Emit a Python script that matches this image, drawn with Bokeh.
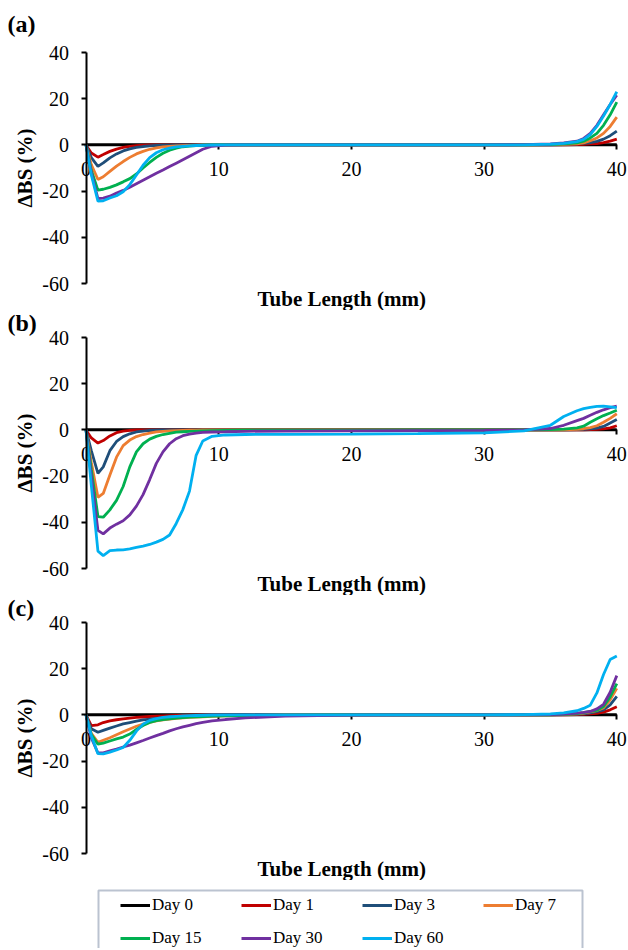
import math
from bokeh.plotting import figure
from bokeh.layouts import column
from bokeh.models import Range1d, FixedTicker, Legend, LegendItem, BoxAnnotation, Title
from bokeh.embed import file_html
from bokeh.resources import INLINE

# ---------------- data ----------------
X = [0, 0.4, 0.9, 1.3, 1.8, 2.3, 2.8, 3.3, 3.8, 4.3, 4.8, 5.3, 5.8, 6.3, 6.8,
     7.3, 7.8, 8.3, 8.8, 9.5, 10.5, 12, 15, 20, 25, 30, 33, 35, 36, 37,
     37.5, 38, 38.5, 39, 39.5, 40]
X_TICKS = [0, 10, 20, 30, 40]
Y_TICKS = [-60, -40, -20, 0, 20, 40]
DAYS = ["Day 0", "Day 1", "Day 3", "Day 7", "Day 15", "Day 30", "Day 60"]
COLORS = ["#000000", "#C00000", "#1F4E79", "#ED7D31", "#00B050", "#7030A0", "#00B0F0"]

# panel (a)
A_D0 = [0, 0, 0, 0, 0, 0, 0, 0, 0, 0, 0, 0, 0, 0, 0, 0, 0, 0, 0, 0, 0, 0, 0, 0, 0, 0, 0, 0, 0, 0, 0, 0, 0, 0, 0, 0]
A_D1 = [0, -3.5, -5.3, -4.2, -2.8, -1.8, -1.1, -0.6, -0.3, -0.15, -0.05, 0, 0, 0, 0, 0, 0, 0, 0, 0,
        0, 0, 0, 0, 0, 0, 0, 0, 0.05, 0.15, 0.25, 0.4, 0.6, 1.0, 1.6, 2.5]
A_D3 = [0, -5.5, -9.3, -7.8, -5.6, -3.9, -2.6, -1.7, -1.1, -0.7, -0.45, -0.25, -0.15, -0.08, -0.03,
        0, 0, 0, 0, 0, 0, 0, 0, 0, 0, 0, 0, 0.05, 0.15, 0.4, 0.7, 1.0, 1.5, 2.5, 4.0, 6.0]
A_D7 = [0, -8.5, -15.0, -13.8, -11.5, -9.2, -7.2, -5.4, -3.9, -2.8, -1.9, -1.3, -0.9, -0.6, -0.4,
        -0.3, -0.2, -0.1, -0.05, 0, 0, 0, 0, 0, 0, 0, 0, 0.1, 0.25, 0.5, 0.9, 1.8, 3.0, 5.0, 8.0, 12.0]
A_D15 = [0, -11.0, -19.6, -19.2, -18.4, -17.3, -16.0, -14.6, -12.6, -10.0, -7.6, -5.4, -3.6, -2.3, -1.4,
         -0.8, -0.5, -0.3, -0.15, -0.05, 0, 0, 0, 0, 0, 0, 0.05, 0.15, 0.4, 0.9, 1.6, 3.0, 5.0, 8.5, 13.0, 18.5]
A_D30 = [0, -12.0, -23.2, -23.0, -22.2, -20.8, -19.7, -18.3, -16.8, -15.3, -13.8, -12.3, -10.9, -9.4, -7.9,
         -6.4, -4.9, -3.4, -1.9, -0.6, -0.1, 0, 0, 0, 0, 0, 0.1, 0.4, 0.9, 1.6, 2.8, 5.0, 8.5, 13.0, 17.5, 21.5]
A_D60 = [0, -13.0, -24.3, -24.2, -23.0, -22.0, -20.3, -17.2, -13.0, -8.8, -5.5, -3.4, -2.1, -1.4, -0.9,
         -0.6, -0.4, -0.25, -0.15, -0.05, 0, 0, 0, 0, 0, 0, 0.05, 0.3, 0.7, 1.4, 2.4, 4.5, 8.0, 12.5, 17.5, 23.0]

# panel (b)
B_D0 = [0, 0, 0, 0, 0, 0, 0, 0, 0, 0, 0, 0, 0, 0, 0, 0, 0, 0, 0, 0, 0, 0, 0, 0, 0, 0, 0, 0, 0, 0, 0, 0, 0, 0, 0, 0]
B_D1 = [0, -3.5, -5.7, -4.6, -2.6, -1.2, -0.5, -0.2, -0.05, 0, 0, 0, 0, 0, 0, 0, 0, 0, 0, 0,
        0, 0, 0, 0, 0, 0, 0, 0, 0, 0, 0.05, 0.1, 0.2, 0.4, 0.9, 1.8]
B_D3 = [0, -9.0, -18.8, -16.0, -9.0, -5.0, -2.9, -1.7, -0.9, -0.5, -0.25, -0.1, 0, 0, 0, 0, 0, 0, 0, 0,
        0, 0, 0, 0, 0, 0, 0, 0, 0, 0.1, 0.2, 0.4, 0.8, 1.5, 3.0, 4.5]
B_D7 = [0, -14.0, -29.2, -27.5, -19.5, -11.8, -6.8, -4.4, -2.9, -2.0, -1.4, -0.9, -0.6, -0.4, -0.3,
        -0.2, -0.15, -0.1, -0.05, -0.05, 0, 0, 0, 0, 0, 0, 0, 0, 0.05, 0.2, 0.5, 1.0, 1.8, 3.3, 5.0, 7.0]
B_D15 = [0, -17.0, -37.5, -37.8, -34.6, -30.5, -24.5, -16.0, -9.5, -6.0, -4.0, -2.8, -2.0, -1.5, -1.0,
         -0.8, -0.6, -0.5, -0.4, -0.3, -0.2, -0.1, -0.1, -0.1, -0.05, 0, 0, 0.1, 0.3, 0.9, 1.6, 3.3, 4.8, 6.2, 7.3, 8.5]
B_D30 = [0, -20.0, -43.5, -45.0, -42.5, -40.8, -39.3, -36.8, -33.0, -28.0, -21.5, -14.5, -9.5, -6.0, -3.8,
         -2.5, -1.8, -1.4, -1.1, -0.9, -0.8, -0.6, -0.5, -0.4, -0.3, -0.2, 0, 0.6, 2.0, 4.0, 5.0, 6.3, 7.6, 8.7, 9.6, 10.3]
B_D60 = [0, -24.0, -52.5, -54.4, -52.3, -52.0, -51.9, -51.5, -50.9, -50.3, -49.6, -48.6, -47.4, -45.5, -40.5,
         -34.5, -26.5, -11.0, -4.8, -2.8, -2.2, -2.0, -1.9, -1.8, -1.6, -1.3, -0.4, 2.0, 5.8, 8.3, 9.2, 9.8, 10.2, 10.3, 10.0, 9.6]

# panel (c)
C_D0 = [0, 0, 0, 0, 0, 0, 0, 0, 0, 0, 0, 0, 0, 0, 0, 0, 0, 0, 0, 0, 0, 0, 0, 0, 0, 0, 0, 0, 0, 0, 0, 0, 0, 0, 0, 0]
C_D1 = [0, -4.6, -4.3, -3.3, -2.6, -2.1, -1.7, -1.4, -1.1, -0.9, -0.7, -0.55, -0.45, -0.35, -0.25,
        -0.2, -0.15, -0.1, -0.05, 0, 0, 0, 0, 0, 0, 0, 0, 0, 0, 0.1, 0.2, 0.4, 0.7, 1.2, 2.2, 3.5]
C_D3 = [0, -6.0, -7.5, -6.7, -5.7, -4.8, -3.9, -3.3, -2.7, -2.2, -1.8, -1.5, -1.25, -1.05, -0.85,
        -0.7, -0.55, -0.45, -0.35, -0.25, -0.15, -0.05, 0, 0, 0, 0, 0, 0, 0.1, 0.3, 0.5, 0.9, 1.4, 2.2, 4.3, 8.0]
C_D7 = [0, -8.0, -11.9, -11.0, -9.9, -8.6, -7.3, -6.1, -4.9, -4.0, -3.2, -2.6, -2.1, -1.8, -1.5,
        -1.3, -1.1, -0.95, -0.8, -0.6, -0.4, -0.2, -0.05, 0, 0, 0, 0, 0.05, 0.2, 0.5, 0.8, 1.3, 1.9, 3.0, 6.5, 11.5]
C_D15 = [0, -8.5, -12.7, -12.2, -11.3, -10.4, -9.6, -8.3, -6.3, -4.6, -3.3, -2.5, -2.0, -1.7, -1.4,
         -1.2, -1.0, -0.85, -0.7, -0.55, -0.4, -0.25, -0.1, 0, 0, 0, 0, 0.05, 0.2, 0.6, 1.0, 1.5, 2.0, 3.6, 7.8, 13.5]
C_D30 = [0, -10.0, -16.5, -16.4, -15.6, -14.8, -13.9, -13.1, -12.1, -11.1, -10.0, -9.0, -8.0, -6.9, -6.0,
         -5.2, -4.5, -3.8, -3.2, -2.6, -2.0, -1.3, -0.5, -0.1, 0, 0, 0, 0.1, 0.3, 0.8, 1.1, 1.5, 2.6, 4.6, 9.8, 17.0]
C_D60 = [0, -9.0, -16.8, -16.9, -16.1, -15.2, -14.1, -11.0, -7.0, -4.0, -2.4, -1.6, -1.1, -0.8, -0.6,
         -0.45, -0.35, -0.25, -0.15, -0.05, 0, 0, 0, 0, 0, 0, 0.1, 0.4, 0.9, 1.8, 2.8, 4.2, 9.5, 17.5, 24.0, 25.5]

PANELS = [
    ("(a)", [A_D0, A_D1, A_D3, A_D7, A_D15, A_D30, A_D60]),
    ("(b)", [B_D0, B_D1, B_D3, B_D7, B_D15, B_D30, B_D60]),
    ("(c)", [C_D0, C_D1, C_D3, C_D7, C_D15, C_D30, C_D60]),
]

SERIF = "Liberation Serif"
W = 628
ORIGIN_PX = 85.5          # where x = 0 sits on the page
PX_PER_MM = 13.27
X_START = -ORIGIN_PX / PX_PER_MM
X_END = (W - ORIGIN_PX) / PX_PER_MM
PX_PER_PCT = 2.31
PAD_PX = 8                # room above 40 / below -60 so their labels are not clipped
FRAME_H = round(100 * PX_PER_PCT) + 2 * PAD_PX
Y_START = -60 - PAD_PX / PX_PER_PCT
Y_END = 40 + PAD_PX / PX_PER_PCT


def make_panel(tag, series, top, tag_standoff):
    p = figure(frame_width=W, frame_height=FRAME_H,
               x_range=Range1d(X_START, X_END), y_range=Range1d(Y_START, Y_END),
               output_backend="svg", toolbar_location=None,
               min_border_left=0, min_border_right=0,
               min_border_top=top, min_border_bottom=19,
               outline_line_color=None, background_fill_color="white")
    p.grid.visible = False
    for ys, c in zip(series, COLORS):
        p.line(X, ys, line_color=c, line_width=2.8)

    xa = p.xaxis[0]
    xa.fixed_location = 0
    xa.bounds = (0, 40)
    xa.level = "underlay"
    xa.ticker = FixedTicker(ticks=X_TICKS)
    xa.minor_tick_line_color = None
    xa.major_tick_out = 5
    xa.major_tick_in = 0
    xa.major_tick_line_width = 2
    xa.axis_line_width = 2
    xa.major_label_standoff = 12
    xa.major_label_text_font = SERIF
    xa.major_label_text_font_size = "20px"
    xa.major_label_text_color = "black"

    ya = p.yaxis[0]
    ya.fixed_location = 0
    ya.bounds = (-60, 40)
    ya.ticker = FixedTicker(ticks=Y_TICKS)
    ya.major_label_overrides = {t: str(t) for t in Y_TICKS}
    ya.minor_tick_line_color = None
    ya.major_tick_out = 5
    ya.major_tick_in = 0
    ya.major_tick_line_width = 2
    ya.axis_line_width = 2
    ya.major_label_standoff = 12
    ya.major_label_text_font = SERIF
    ya.major_label_text_font_size = "20px"
    ya.major_label_text_color = "black"
    ya.axis_label = "ΔBS (%)"
    ya.axis_label_text_font = SERIF
    ya.axis_label_text_font_style = "bold"
    ya.axis_label_text_font_size = "21px"
    ya.axis_label_text_color = "black"
    ya.axis_label_standoff = 3

    p.title.text = tag
    p.title.align = "left"
    p.title.offset = 7
    p.title.vertical_align = "middle"
    p.title.standoff = tag_standoff
    p.title.text_font = SERIF
    p.title.text_font_style = "bold"
    p.title.text_font_size = "24px"
    p.title.text_color = "black"

    p.add_layout(Title(text="Tube Length (mm)", align="left", offset=257, standoff=-11,
                       vertical_align="middle", text_font=SERIF, text_font_style="bold",
                       text_font_size="21px", text_color="black"), "below")
    return p


pa = make_panel(PANELS[0][0], PANELS[0][1], 44, 13)
pb = make_panel(PANELS[1][0], PANELS[1][1], 19, -14.6)
pc = make_panel(PANELS[2][0], PANELS[2][1], 19, -14.6)

# legend strip (x in page pixels, y counted up from the strip's bottom)
LEG_H = 68
pl = figure(frame_width=W, frame_height=LEG_H,
            x_range=Range1d(0, W), y_range=Range1d(0, LEG_H),
            output_backend="svg", toolbar_location=None,
            min_border_left=0, min_border_right=0, min_border_top=0, min_border_bottom=0,
            x_axis_location=None, y_axis_location=None, outline_line_color=None)
pl.grid.visible = False
rs = [pl.line(x=[math.nan], y=[math.nan], line_color=c, line_width=3) for c in COLORS]
pl.add_layout(BoxAnnotation(left=98, right=582, top=58, bottom=-10, fill_alpha=0,
                            line_color="#1F3864", line_width=2))


def make_legend(names, rends, loc):
    lg = Legend(items=[LegendItem(label=n, renderers=[r]) for n, r in zip(names, rends)],
                orientation="horizontal", location=loc)
    lg.glyph_width = 30
    lg.glyph_height = 20
    lg.label_height = 20
    lg.label_width = 88
    lg.label_standoff = 2
    lg.spacing = 1
    lg.padding = 0
    lg.margin = 0
    lg.border_line_alpha = 0
    lg.background_fill_alpha = 0
    lg.label_text_font = SERIF
    lg.label_text_font_size = "17px"
    lg.label_text_color = "black"
    return lg


pl.add_layout(make_legend(DAYS[:4], rs[:4], (120, 33)), "center")
pl.add_layout(make_legend(DAYS[4:], rs[4:], (120, 0)), "center")

layout = column(pa, pb, pc, pl)
open("out.html", "w").write(file_html(layout, INLINE))
